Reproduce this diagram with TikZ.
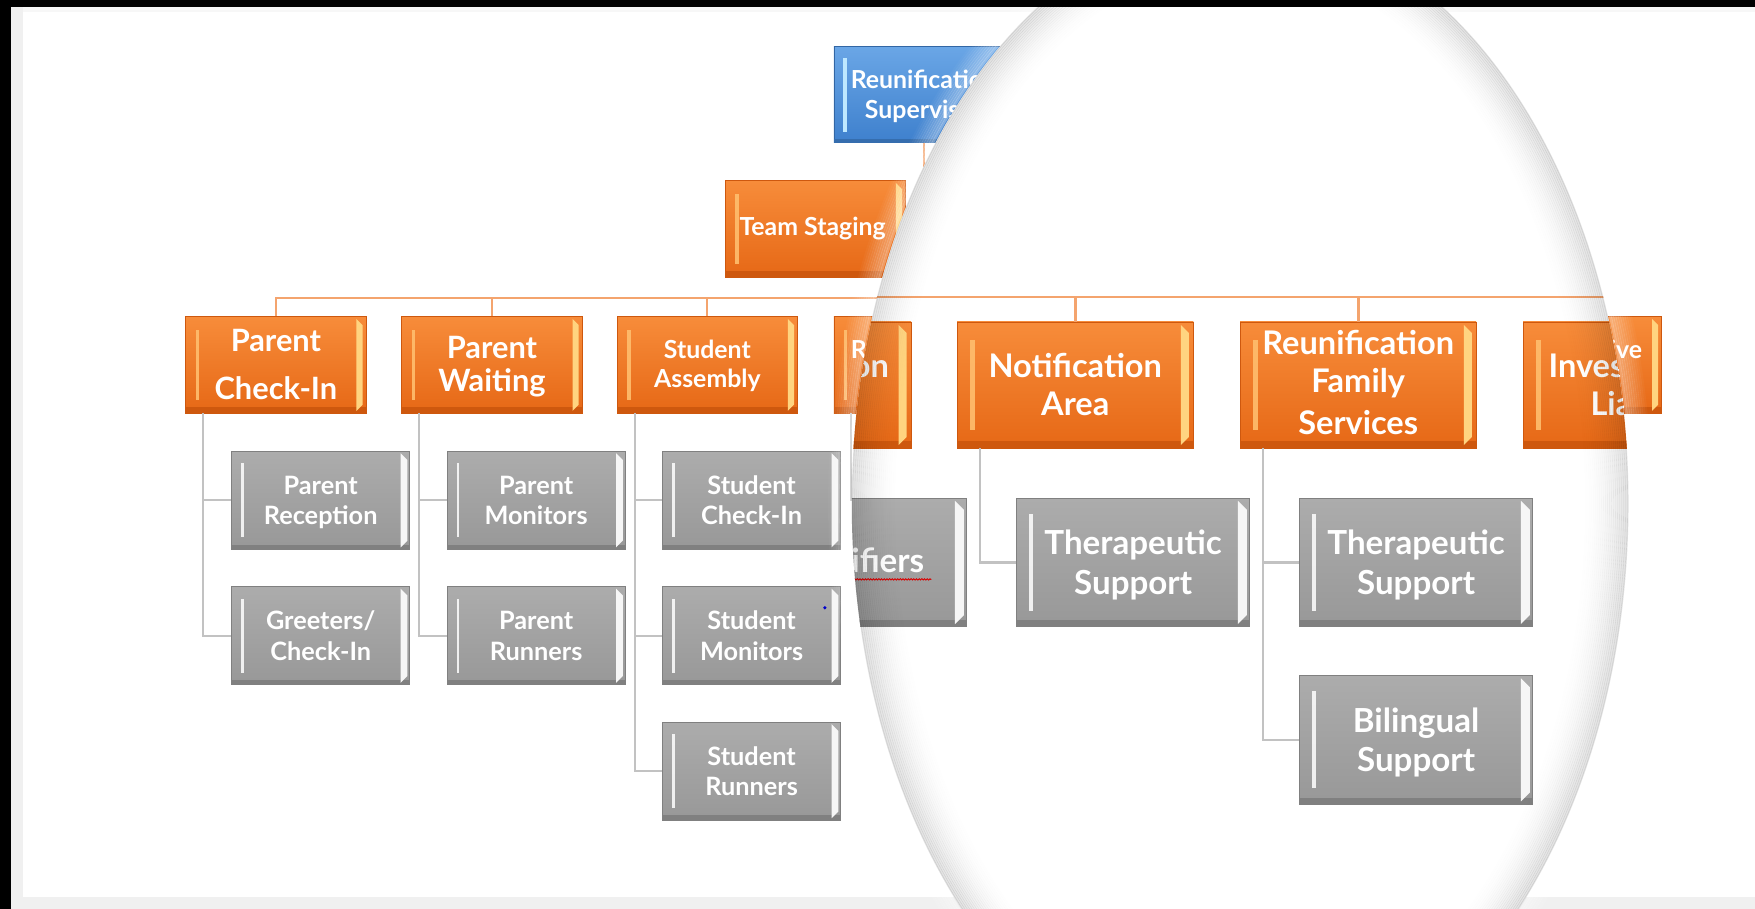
\documentclass[tikz,border=0pt]{standalone}
\usepackage{fontspec}
\setmainfont{Lato}
\usetikzlibrary{decorations.pathmorphing}
\definecolor{oTop}{RGB}{247,140,58}
\definecolor{oBot}{RGB}{230,104,22}
\definecolor{oDark}{RGB}{206,88,14}
\definecolor{oHi}{RGB}{255,190,110}
\definecolor{oStrip}{RGB}{255,212,128}
\definecolor{gTop}{RGB}{172,172,172}
\definecolor{gBot}{RGB}{152,152,152}
\definecolor{gDark}{RGB}{128,128,128}
\definecolor{bTop}{RGB}{106,166,230}
\definecolor{bBot}{RGB}{62,128,205}
\definecolor{bHi}{RGB}{190,232,255}
\definecolor{oLine}{RGB}{244,164,110}
\definecolor{gLine}{RGB}{194,194,194}
\definecolor{frameGray}{RGB}{240,240,240}
\newcommand\fntA{\fontsize{27.5pt}{33pt}\selectfont\bfseries}
\newcommand\fntB{\fontsize{22.2pt}{27pt}\selectfont\bfseries}
\newcommand\fntC{\fontsize{22.6pt}{27pt}\selectfont\bfseries}
\tikzset{
 obox/.style={minimum width=161pt, minimum height=86pt, inner sep=0pt, top color=oTop, bottom color=oBot, draw=oDark, line width=0.6pt},
 gbox/.style={minimum width=159pt, minimum height=87.5pt, inner sep=0pt, top color=gTop, bottom color=gBot, draw=gDark, line width=0.6pt},
 bbox/.style={minimum width=161pt, minimum height=86pt, inner sep=0pt, top color=bTop, bottom color=bBot, draw=bBot!80!black, line width=0.6pt},
 tx/.style={anchor=base, text=white, inner sep=0pt},
 oline/.style={draw=oLine, line width=1.8pt},
 gline/.style={draw=gLine, line width=1.6pt},
}
\newcommand\OBox[3]{%
 \node[obox] (#1) at (#2,#3) {};
 \fill[oDark] (#2-80.5,#3+38) rectangle (#2+80.5,#3+43);
 \fill[oHi, opacity=0.9] (#2-71.5,#3-31) rectangle (#2-68.5,#3+31);
 \fill[oStrip] (#2+72,#3-41) -- (#2+77.5,#3-35.5) -- (#2+77.5,#3+35.5) -- (#2+72,#3+41) -- cycle;
}
\newcommand\GBox[3]{%
 \node[gbox] (#1) at (#2,#3) {};
 \fill[gDark] (#2-79.5,#3+39.5) rectangle (#2+79.5,#3+43.75);
 \fill[white, opacity=0.85] (#2-71,#3-33) rectangle (#2-68.5,#3+33);
 \fill[white!93!gray] (#2+71.5,#3-42) -- (#2+77.5,#3-36) -- (#2+77.5,#3+36) -- (#2+71.5,#3+42) -- cycle;
}
\newcommand\BBox[3]{%
 \node[bbox] (#1) at (#2,#3) {};
 \fill[bBot!85!black] (#2-80.5,#3+40) rectangle (#2+80.5,#3+43);
 \fill[bHi] (#2-72.5,#3-33) rectangle (#2-69,#3+33);
}
\newcommand\Tx[5]{\node[tx,font=#4] (#1) at (#2,#3) {#5};}
\newcommand\chart[1]{%
 \coordinate (#1bar) at (825.5,266);
 \BBox{#1sup}{825.5}{84.6}
 \Tx{#1supA}{825.5}{78.7}{\fntB}{Reunification}
 \Tx{#1supB}{825.5}{105.6}{\fntB}{Supervisor}
 \OBox{#1ts}{728.5}{204.5}
 \Tx{#1tsA}{726}{210}{\fntB}{Team Staging}
 \OBox{#1b1}{246.5}{326}
 \Tx{#1b1A}{246.5}{314}{\fntA}{Parent}
 \Tx{#1b1B}{246.5}{357}{\fntA}{Check-In}
 \OBox{#1b2}{439.5}{326}
 \Tx{#1b2A}{439.5}{320}{\fntA}{Parent}
 \Tx{#1b2B}{439.5}{350}{\fntA}{Waiting}
 \OBox{#1b3}{632}{326}
 \Tx{#1b3A}{632}{320}{\fntB}{Student}
 \Tx{#1b3B}{632}{346}{\fntB}{Assembly}
 \OBox{#1b4}{825.5}{326}
 \Tx{#1b4A}{825.5}{320.7}{\fntB}{Reunification}
 \OBox{#1b5}{1018}{326}
 \Tx{#1b5A}{1018}{320.7}{\fntB}{Notification}
 \Tx{#1b5B}{1018}{346.7}{\fntB}{Area}
 \OBox{#1b6}{1211}{326}
 \Tx{#1b6A}{1211}{305.4}{\fntB}{Reunification}
 \Tx{#1b6B}{1211}{331.4}{\fntB}{Family}
 \Tx{#1b6C}{1211}{359.6}{\fntB}{Services}
 \OBox{#1b7}{1404}{326}
 \Tx{#1b7A}{1404}{320.7}{\fntB}{Investigative}
 \Tx{#1b7B}{1404}{346.7}{\fntB}{Liaison}
 \draw[oline] (#1sup.south) -- (#1bar);
 \draw[oline] (#1ts.east) -- (#1ts.east -| #1bar);
 \draw[oline] (#1b1.north) |- (#1b7.north |- #1bar) -- (#1b7.north);
 \foreach \k in {2,...,6} {\draw[oline] (#1b\k.north) -- (#1b\k.north |- #1bar);}
 \GBox{#1c11}{286.5}{447}
 \Tx{#1c11A}{286.5}{441.75}{\fntC}{Parent}
 \Tx{#1c11B}{286.5}{468.75}{\fntC}{Reception}
 \GBox{#1c12}{286.5}{568}
 \Tx{#1c12A}{286.5}{562.75}{\fntC}{Greeters/}
 \Tx{#1c12B}{286.5}{589.75}{\fntC}{Check-In}
 \GBox{#1c21}{479}{447}
 \Tx{#1c21A}{479}{441.75}{\fntC}{Parent}
 \Tx{#1c21B}{479}{468.75}{\fntC}{Monitors}
 \GBox{#1c22}{479}{568}
 \Tx{#1c22A}{479}{562.75}{\fntC}{Parent}
 \Tx{#1c22B}{479}{589.75}{\fntC}{Runners}
 \GBox{#1c31}{671.5}{447}
 \Tx{#1c31A}{671.5}{441.75}{\fntC}{Student}
 \Tx{#1c31B}{671.5}{468.75}{\fntC}{Check-In}
 \GBox{#1c32}{671.5}{568}
 \Tx{#1c32A}{671.5}{562.75}{\fntC}{Student}
 \Tx{#1c32B}{671.5}{589.75}{\fntC}{Monitors}
 \GBox{#1c33}{671.5}{689}
 \Tx{#1c33A}{671.5}{683.75}{\fntC}{Student}
 \Tx{#1c33B}{671.5}{710.75}{\fntC}{Runners}
 \GBox{#1c41}{864.5}{447}
 \Tx{#1c41A}{864.5}{454}{\fntC}{Reunifiers}
 \draw[red!85!black, line width=0.8pt, decorate, decoration={snake, amplitude=0.6pt, segment length=2.4pt}] (#1c41A.base west) ++(0,4.5) -- ++(106,0);
 \GBox{#1c51}{1057.5}{447}
 \Tx{#1c51A}{1057.5}{441.75}{\fntC}{Therapeutic}
 \Tx{#1c51B}{1057.5}{468.75}{\fntC}{Support}
 \GBox{#1c61}{1250.5}{447}
 \Tx{#1c61A}{1250.5}{441.75}{\fntC}{Therapeutic}
 \Tx{#1c61B}{1250.5}{468.75}{\fntC}{Support}
 \GBox{#1c62}{1250.5}{568}
 \Tx{#1c62A}{1250.5}{562.75}{\fntC}{Bilingual}
 \Tx{#1c62B}{1250.5}{589.75}{\fntC}{Support}
 \coordinate (#1k1) at (181.5,369);
 \coordinate (#1k2) at (374.5,369);
 \coordinate (#1k3) at (567,369);
 \coordinate (#1k4) at (760.5,369);
 \coordinate (#1k5) at (953,369);
 \coordinate (#1k6) at (1146,369);
 \draw[gline] (#1k1) |- (#1c11.west);
 \draw[gline] (#1k1) |- (#1c12.west);
 \draw[gline] (#1k2) |- (#1c21.west);
 \draw[gline] (#1k2) |- (#1c22.west);
 \draw[gline] (#1k3) |- (#1c31.west);
 \draw[gline] (#1k3) |- (#1c32.west);
 \draw[gline] (#1k3) |- (#1c33.west);
 \draw[gline] (#1k4) |- (#1c41.west);
 \draw[gline] (#1k5) |- (#1c51.west);
 \draw[gline] (#1k6) |- (#1c61.west);
 \draw[gline] (#1k6) |- (#1c62.west);
}
\begin{document}
\begin{tikzpicture}[x=1pt,y=-1pt]
\useasboundingbox (0,0) rectangle (1568,812);
\fill[white] (0,0) rectangle (1568,812);
\fill[frameGray] (9.8,0) rectangle (20.5,812);
\fill[frameGray] (9.8,801.4) rectangle (1568,812);
\fill[black!3] (20.5,6.25) rectangle (1568,10.7);
\chart{u}
\fill[blue!80!black] (737,543) circle (1.6pt);
% magnifying lens
\begin{scope}
 \clip (1108,450) ellipse [x radius=347pt, y radius=520pt];
 \fill[white] (0,0) rectangle (1568,812);
 \begin{scope}[xshift=-372.93pt, yshift=83.08pt, scale=1.31, transform shape,
   oline/.append style={line width=2.3pt}, gline/.append style={line width=2pt}]
  \chart{m}
 \end{scope}
 \foreach \i in {0,...,24}{
  \pgfmathsetmacro\op{0.12*(1-\i/25)^2}
  \pgfmathsetmacro\rx{347-1.8*\i}
  \pgfmathsetmacro\ry{520-1.8*\i}
  \draw[black, opacity=\op, line width=2.1pt] (1108,450) ellipse [x radius=\rx pt, y radius=\ry pt];
 }
\end{scope}
\foreach \i in {1,...,10}{
 \pgfmathsetmacro\op{0.35*(1-\i/11)}
 \pgfmathsetmacro\rx{347+2*\i}
 \pgfmathsetmacro\ry{520+2*\i}
 \draw[white, opacity=\op, line width=2.3pt] (1108,450) ellipse [x radius=\rx pt, y radius=\ry pt];
}
\fill[black] (0,0) rectangle (1568,6.25);
\fill[black] (0,0) rectangle (9.8,812);
\end{tikzpicture}
\end{document}
